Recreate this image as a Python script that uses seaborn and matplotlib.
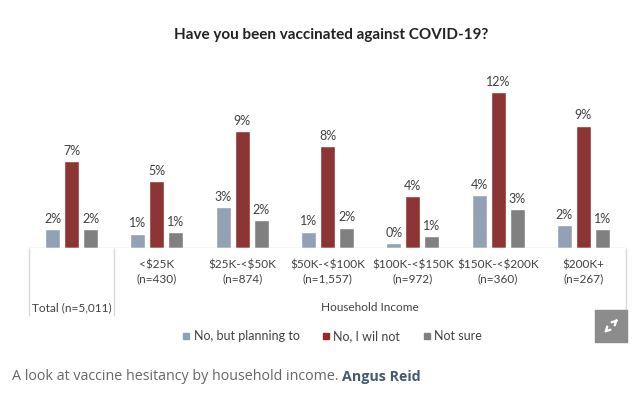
import numpy as np
import pandas as pd
import matplotlib.pyplot as plt
import seaborn as sns
from matplotlib.patches import Rectangle

# Values (percent)
groups = ['Total', '<$25K', '$25K-<$50K', '$50K-<$100K', '$100K-<$150K',
          '$150K-<$200K', '$200K+']
sizes = ['5,011', '430', '874', '1,557', '972', '360', '267']
series = ['No, but planning to', 'No, I wil not', 'Not sure']
planning = [1.5, 1.15, 3.2, 1.3, 0.4, 4.1, 1.8]
will_not = [6.7, 5.2, 9.0, 7.85, 4.0, 12.0, 9.45]
not_sure = [1.5, 1.25, 2.2, 1.6, 0.95, 3.0, 1.5]
planning_lbl = ['2%', '1%', '3%', '1%', '0%', '4%', '2%']
will_not_lbl = ['7%', '5%', '9%', '8%', '4%', '12%', '9%']
not_sure_lbl = ['2%', '1%', '2%', '2%', '1%', '3%', '1%']

colors = ['#8DA0BA', '#9C2626', '#808080']
text_col = '#404040'

df = pd.DataFrame({
    'group': groups * 3,
    'series': np.repeat(series, len(groups)),
    'value': planning + will_not + not_sure,
})

sns.set_style('white')
plt.rcParams['font.family'] = ['Lato', 'DejaVu Sans']

fig = plt.figure(figsize=(6.4, 4.04), dpi=100)
ax = fig.add_axes([29 / 640, 0.385, 597 / 640, 188.5 / 404])

sns.barplot(data=df, x='group', y='value', hue='series', palette=colors,
            width=0.67, gap=0.21, ax=ax, legend=False)

for cont, lbls in zip(ax.containers, [planning_lbl, will_not_lbl, not_sure_lbl]):
    ax.bar_label(cont, labels=lbls, padding=3, fontsize=9, color=text_col)

ax.set_xlim(-0.5, 6.5)
ax.set_ylim(0, 14.5)
ax.set_yticks([])
ax.set_xlabel('')
ax.set_ylabel('')
for s in ax.spines.values():
    s.set_visible(False)

# category labels (escape $ so it is not parsed as math)
ticklabels = [''] + [g.replace('$', r'\$') + '\n(n=' + n + ')'
                     for g, n in zip(groups[1:], sizes[1:])]
ax.set_xticks(range(len(groups)))
ax.set_xticklabels(ticklabels, fontsize=8.5, color=text_col, linespacing=1.3)
ax.tick_params(axis='x', length=0, pad=8)

# table lines
ax.axhline(0, color='#d9d9d9', lw=1)
ax.vlines([-0.5, 0.5, 6.5], -0.36, 0, colors='#d9d9d9', lw=1,
          transform=ax.get_xaxis_transform(), clip_on=False)
ax.text(0, -0.315, 'Total (n=' + sizes[0] + ')', ha='center', va='center',
        fontsize=8.5, color=text_col, transform=ax.get_xaxis_transform())
ax.text(3.5, -0.315, 'Household Income', ha='center', va='center',
        fontsize=8.5, color=text_col, transform=ax.get_xaxis_transform())

# legend
handles = [plt.Line2D([], [], marker='s', ls='', color=c, markersize=5)
           for c in colors]
fig.legend(handles, series, loc='center', bbox_to_anchor=(331 / 640, 1 - 336.5 / 404),
           ncol=3, frameon=False, fontsize=9, handletextpad=0.1,
           columnspacing=1.6, handlelength=1.0, labelcolor=text_col)

fig.suptitle('Have you been vaccinated against COVID-19?', x=331 / 640,
             y=1 - 35.5 / 404, va='center', fontsize=11, fontweight='bold',
             color='#222222')

# expand icon
fig.patches.append(Rectangle((595 / 640, 1 - 342 / 404), 32 / 640, 32 / 404,
                             transform=fig.transFigure, color='#8c8c8c'))
for a, b in [((613, 324), (620, 317)), ((609, 328), (602, 335))]:
    fig.add_artist(plt.Annotation('', xy=(b[0] / 640, 1 - b[1] / 404),
                                  xytext=(a[0] / 640, 1 - a[1] / 404),
                                  xycoords='figure fraction',
                                  arrowprops=dict(arrowstyle='->', color='white',
                                                  lw=1.6, mutation_scale=8)))

# caption
cap = fig.text(12 / 640, 1 - 377 / 404, 'A look at vaccine hesitancy by household income. ',
               va='center', fontsize=10.3, color='#666666',
               family=['Open Sans', 'DejaVu Sans'])
fig.canvas.draw()
bb = cap.get_window_extent(fig.canvas.get_renderer())
fig.text(bb.x1 / fig.bbox.width, 1 - 377 / 404, 'Angus Reid', va='center',
         fontsize=10.3, fontweight='bold', color='#45596f',
         family=['Open Sans', 'DejaVu Sans'])

fig.savefig('out.png', dpi=100)
